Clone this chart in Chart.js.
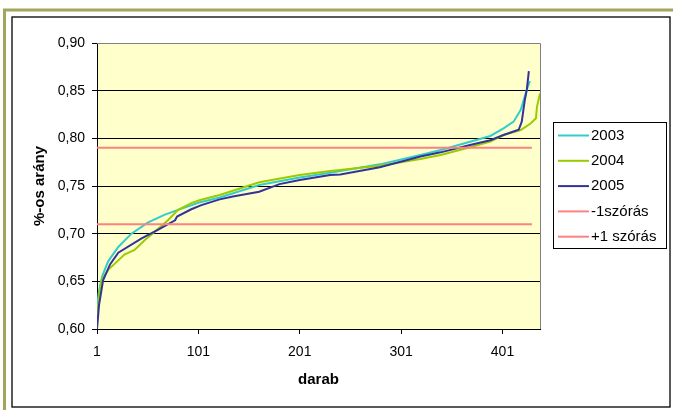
<!DOCTYPE html>
<html>
<head>
<meta charset="utf-8">
<script src="https://cdn.jsdelivr.net/npm/chart.js@4/dist/chart.umd.min.js"></script>
<style>
  html, body { margin: 0; padding: 0; background: #fff; }
  #wrap { width: 673px; height: 410px; }
</style>
</head>
<body>
<div id="wrap"><canvas id="chart" width="673" height="410"></canvas></div>
<script>
// adatok
const xTicks = [1, 101, 201, 301, 401];
const yTicks = { min: 0.60, max: 0.90, step: 0.05 };

const x2003 = [1, 3, 6, 12, 22, 35, 51, 68, 81, 101, 122, 161, 201, 231, 280, 320, 340, 369, 389, 402, 412, 419, 423, 425, 428];
const y2003 = [0.623, 0.640, 0.655, 0.671, 0.686, 0.700, 0.7115, 0.720, 0.725, 0.7325, 0.738, 0.751, 0.759, 0.764, 0.7727, 0.7825, 0.7878, 0.7965, 0.8025, 0.8105, 0.8175, 0.830, 0.844, 0.851, 0.860];

const x2004 = [1, 3, 6, 12, 22, 28, 38, 48, 58, 71, 81, 94, 102, 122, 161, 201, 231, 280, 320, 340, 369, 389, 402, 419, 429, 434, 435, 438];
const y2004 = [0.607, 0.635, 0.652, 0.662, 0.672, 0.678, 0.683, 0.693, 0.702, 0.714, 0.725, 0.732, 0.735, 0.7406, 0.754, 0.7615, 0.7657, 0.7713, 0.7783, 0.7825, 0.7906, 0.7965, 0.8035, 0.8087, 0.8158, 0.821, 0.833, 0.847];

const x2005 = [1, 3, 7, 14, 22, 45, 61, 78, 80, 94, 104, 122, 135, 161, 181, 201, 231, 241, 280, 320, 340, 369, 389, 402, 414, 417, 420, 423, 425, 427];
const y2005 = [0.600, 0.625, 0.651, 0.668, 0.680, 0.695, 0.704, 0.714, 0.718, 0.7256, 0.730, 0.736, 0.739, 0.744, 0.752, 0.7563, 0.7615, 0.762, 0.7696, 0.781, 0.7853, 0.793, 0.798, 0.8035, 0.808, 0.809, 0.8175, 0.840, 0.851, 0.8706];

const xSd = [1, 430];
const minusSd = [0.71, 0.71];
const plusSd = [0.79, 0.79];

const FONT = "'Liberation Sans', Arial, sans-serif";

function pts(xs, ys) {
    return xs.map((x, i) => ({ x: x, y: ys[i] }));
}

function line(label, xs, ys, color, order) {
    return {
        label: label,
        data: pts(xs, ys),
        borderColor: color,
        backgroundColor: color,
        borderWidth: 2,
        pointRadius: 0,
        tension: 0,
        order: order,
    };
}

// keret, háttér, tengelycímek és jelmagyarázat
const decor = {
    id: 'decor',
    beforeDraw(chart) {
        const c = chart.ctx;
        const a = chart.chartArea;
        c.save();
        c.fillStyle = '#fff';
        c.fillRect(0, 0, chart.width, chart.height);
        c.strokeStyle = '#a3a65a';
        c.lineWidth = 3;
        c.strokeRect(4.5, 10, 800, 600);
        c.strokeStyle = '#000';
        c.lineWidth = 1.3;
        c.strokeRect(12, 17, 658, 390);
        c.fillStyle = '#ffffcc';
        c.fillRect(a.left, a.top, a.right - a.left, a.bottom - a.top);
        c.restore();
    },
    afterDraw(chart) {
        const c = chart.ctx;
        const a = chart.chartArea;
        c.save();
        c.strokeStyle = '#808080';
        c.lineWidth = 1;
        c.beginPath();
        c.moveTo(a.left, a.top + 0.5);
        c.lineTo(a.right + 0.5, a.top + 0.5);
        c.lineTo(a.right + 0.5, a.bottom);
        c.stroke();

        // tengelycímek
        c.fillStyle = '#000';
        c.font = 'bold 15px ' + FONT;
        c.textAlign = 'center';
        c.textBaseline = 'middle';
        c.fillText('darab', (a.left + a.right) / 2, 380);
        c.translate(40, (a.top + a.bottom) / 2);
        c.rotate(-Math.PI / 2);
        c.fillText('%-os arány', 0, 0);
        c.restore();

        // jelmagyarázat
        c.save();
        c.strokeStyle = '#000';
        c.lineWidth = 1;
        c.strokeRect(553.5, 122.5, 113, 126);
        c.font = '15px ' + FONT;
        c.textAlign = 'left';
        c.textBaseline = 'middle';
        chart.data.datasets.forEach((ds, i) => {
            const y = 135.5 + i * 25.3;
            c.strokeStyle = ds.borderColor;
            c.lineWidth = 2;
            c.beginPath();
            c.moveTo(558, y);
            c.lineTo(589, y);
            c.stroke();
            c.fillStyle = '#000';
            c.fillText(ds.label, 591, y);
        });
        c.restore();
    },
};

new Chart(document.getElementById('chart').getContext('2d'), {
    type: 'line',
    data: {
        datasets: [
            line('2003', x2003, y2003, '#33cccc', 5),
            line('2004', x2004, y2004, '#99cc00', 4),
            line('2005', x2005, y2005, '#333399', 3),
            line('-1szórás', xSd, minusSd, '#ff8080', 2),
            line('+1 szórás', xSd, plusSd, '#ff8080', 1),
        ],
    },
    options: {
        responsive: false,
        animation: false,
        layout: { padding: { top: 43, right: 133, bottom: 0, left: 0 } },
        plugins: {
            legend: { display: false },
            tooltip: { enabled: false },
        },
        scales: {
            x: {
                type: 'linear',
                min: 1,
                max: 438,
                afterBuildTicks: (s) => { s.ticks = xTicks.map(v => ({ value: v })); },
                afterFit: (s) => { s.height = 81; },
                grid: { drawOnChartArea: false, drawTicks: true, tickLength: 5, color: '#000' },
                border: { display: true, color: '#000', width: 1 },
                ticks: {
                    color: '#000',
                    font: { family: FONT, size: 14 },
                    padding: 10,
                    maxRotation: 0,
                    autoSkip: false,
                },
            },
            y: {
                min: yTicks.min,
                max: yTicks.max,
                afterFit: (s) => { s.width = 97; },
                grid: {
                    color: (ctx) => (ctx.tick && ctx.tick.value > 0.899 ? '#808080' : '#000'),
                    tickColor: '#000',
                    tickLength: 5,
                },
                border: { display: true, color: '#000', width: 1 },
                ticks: {
                    stepSize: yTicks.step,
                    color: '#000',
                    font: { family: FONT, size: 14 },
                    padding: 7,
                    callback: (v) => v.toFixed(2).replace('.', ','),
                },
            },
        },
    },
    plugins: [decor],
});
</script>
</body>
</html>
